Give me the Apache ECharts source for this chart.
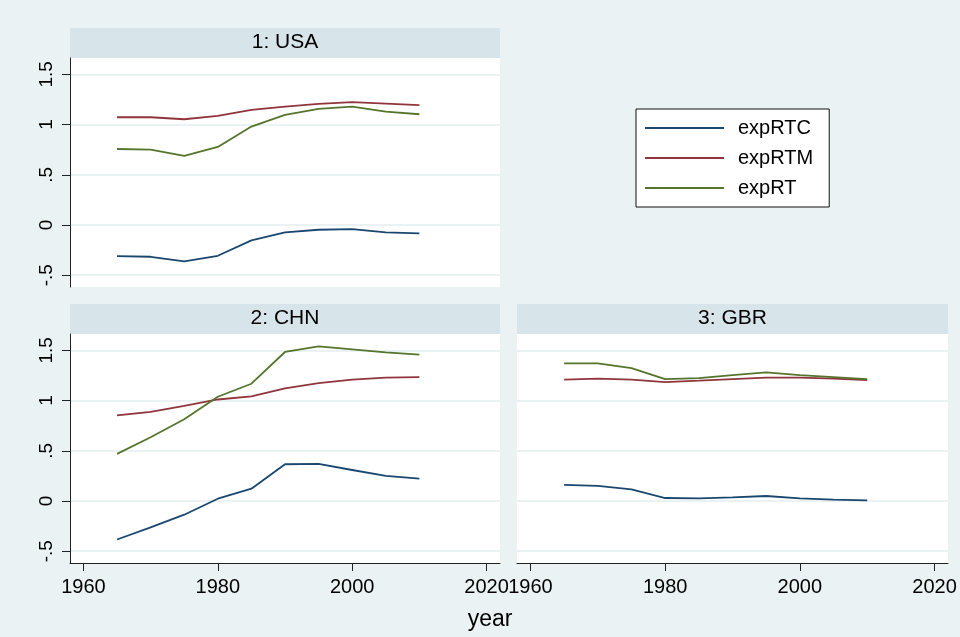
<!DOCTYPE html>
<html lang="en">
<head>
<meta charset="UTF-8">
<title>expRT by country</title>
<style>
  html, body { margin: 0; padding: 0; background: #EAF2F3; }
  #chart { width: 960px; height: 637px; }
</style>
</head>
<body>
<div id="chart"></div>
<script src="https://cdn.jsdelivr.net/npm/echarts@6/dist/echarts.min.js"></script>
<script>
// data
var years = [1965, 1970, 1975, 1980, 1985, 1990, 1995, 2000, 2005, 2010];
var seriesNames = ['expRTC', 'expRTM', 'expRT'];
var panelTitles = ['1: USA', '2: CHN', '3: GBR'];

var usaRTC = [-0.309, -0.316, -0.362, -0.306, -0.153, -0.073, -0.047, -0.040, -0.073, -0.083];
var usaRTM = [1.073, 1.073, 1.053, 1.086, 1.146, 1.179, 1.206, 1.223, 1.209, 1.193];
var usaRT  = [0.757, 0.751, 0.688, 0.777, 0.980, 1.096, 1.156, 1.179, 1.130, 1.103];

var chnRTC = [-0.383, -0.263, -0.136, 0.023, 0.123, 0.366, 0.369, 0.309, 0.250, 0.223];
var chnRTM = [0.852, 0.888, 0.948, 1.011, 1.041, 1.121, 1.174, 1.208, 1.228, 1.234];
var chnRT  = [0.469, 0.635, 0.815, 1.038, 1.168, 1.484, 1.540, 1.510, 1.480, 1.457];

var gbrRTC = [0.160, 0.150, 0.116, 0.030, 0.027, 0.037, 0.050, 0.027, 0.013, 0.007];
var gbrRTM = [1.208, 1.218, 1.208, 1.184, 1.198, 1.214, 1.228, 1.228, 1.218, 1.204];
var gbrRT  = [1.371, 1.371, 1.324, 1.214, 1.224, 1.254, 1.281, 1.254, 1.234, 1.214];

var yTicks = [-0.5, 0, 0.5, 1, 1.5];
var xTicks = [1960, 1980, 2000, 2020];

var colors = ['#1a476f', '#90353b', '#55752f'];
var FONT = 'Liberation Sans, Arial, sans-serif';

var panels = [
  { data: [usaRTC, usaRTM, usaRT], left: 70,  top: 58,  width: 430, showX: false, showY: true },
  { data: [chnRTC, chnRTM, chnRT], left: 70,  top: 334, width: 430, showX: true,  showY: true },
  { data: [gbrRTC, gbrRTM, gbrRT], left: 517, top: 334, width: 431, showX: true,  showY: false }
];

function pairs(vals) {
  return years.map(function (y, i) { return [y, vals[i]]; });
}

var grids = [], xAxes = [], yAxes = [], series = [], graphics = [];

panels.forEach(function (p, k) {
  grids.push({
    left: p.left, top: p.top, width: p.width, height: 229,
    show: true, backgroundColor: '#fff', borderWidth: 0
  });
  xAxes.push({
    gridIndex: k, type: 'value', min: 1958, max: 2022,
    show: p.showX,
    axisLine: { show: true, onZero: false, lineStyle: { color: '#222', width: 1 } },
    axisTick: { show: true, length: 8, customValues: xTicks, lineStyle: { color: '#222' } },
    axisLabel: {
      customValues: xTicks, margin: 14, color: '#000',
      fontSize: 20, fontFamily: FONT,
      formatter: function (v) { return String(v); }
    },
    splitLine: { show: false }
  });
  yAxes.push({
    gridIndex: k, type: 'value', min: -0.617, max: 1.663,
    axisLine: { show: p.showY, onZero: false, lineStyle: { color: '#222', width: 1 } },
    axisTick: { show: p.showY, length: 8, customValues: yTicks, lineStyle: { color: '#222' } },
    axisLabel: {
      show: p.showY, customValues: yTicks, rotate: 90, margin: 14,
      color: '#000', fontSize: 19, fontFamily: FONT,
      formatter: function (v) { return String(v).replace('0.', '.'); }
    },
    splitLine: { show: true, lineStyle: { color: '#EAF2F3', width: 2 } }
  });
  p.data.forEach(function (vals, j) {
    series.push({
      name: seriesNames[j], type: 'line', xAxisIndex: k, yAxisIndex: k,
      data: pairs(vals), symbol: 'none', silent: true,
      lineStyle: { color: colors[j], width: 1.8 },
      itemStyle: { color: colors[j] }
    });
  });
  // panel header strip
  graphics.push({
    type: 'rect', left: p.left, top: p.top - 30,
    shape: { width: p.width, height: 30 },
    style: { fill: '#D7E4EA' }
  });
  graphics.push({
    type: 'text', x: p.left + p.width / 2, y: p.top - 16,
    style: {
      text: panelTitles[k], fill: '#000', font: '21px ' + FONT,
      textAlign: 'center', textVerticalAlign: 'middle'
    }
  });
});

graphics.push({
  type: 'text', x: 490, y: 620,
  style: {
    text: 'year', fill: '#000', font: '23px ' + FONT,
    textAlign: 'center', textVerticalAlign: 'middle'
  }
});

var chart = echarts.init(document.getElementById('chart'));
chart.setOption({
  backgroundColor: '#EAF2F3',
  animation: false,
  color: colors,
  grid: grids,
  xAxis: xAxes,
  yAxis: yAxes,
  legend: {
    data: seriesNames,
    orient: 'vertical',
    left: 636, top: 109,
    backgroundColor: '#fff',
    borderColor: '#111', borderWidth: 1, borderRadius: 0,
    padding: [9, 16, 9, 9],
    icon: 'rect',
    itemWidth: 79, itemHeight: 2, itemGap: 10,
    textStyle: { fontSize: 20, fontFamily: FONT, color: '#000', padding: [0, 0, 0, 9] }
  },
  graphic: graphics,
  series: series
});
</script>
</body>
</html>
